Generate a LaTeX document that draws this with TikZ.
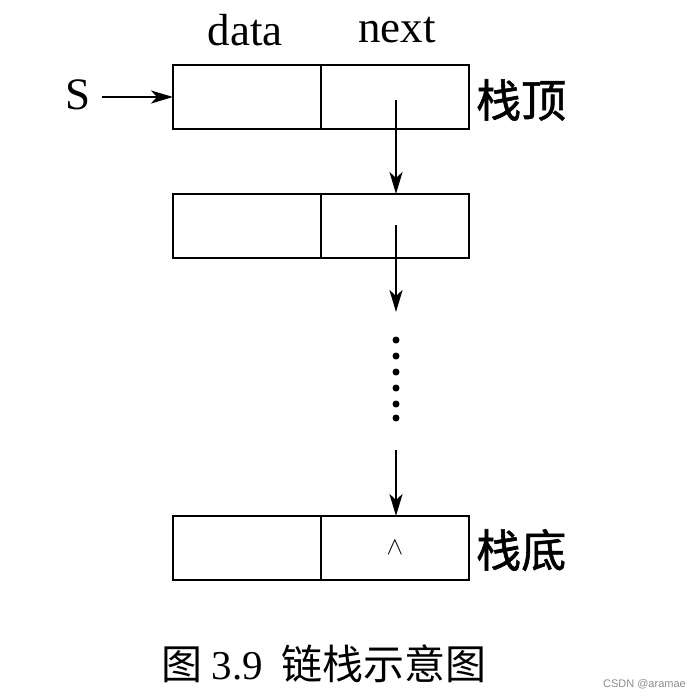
\documentclass[tikz,border=0pt]{standalone}
\usepackage{fontspec}
\setmainfont{Liberation Serif}
\newfontfamily\cjk{Noto Sans CJK SC}
\newfontfamily\cjkfb{Noto Sans CJK SC}[FakeBold=1.3]
\newfontfamily\wmfont{Liberation Sans}
\usetikzlibrary{arrows.meta}
\begin{document}
\begin{tikzpicture}[x=1pt,y=-1pt,
  cell/.style={draw,line width=2.6pt,minimum width=148pt,minimum height=64pt,inner sep=0pt,outer sep=0pt},
  lbl/.style={font=\fontsize{45}{45}\selectfont,inner sep=0pt},
  side/.style={font=\cjkfb\fontsize{45}{45}\selectfont,inner sep=0pt,anchor=west},
  link/.style={line width=2.6pt,-{Stealth[length=22pt,width=13pt,inset=6pt]}},
  dot/.style={circle,fill=black,inner sep=0pt,minimum size=7pt}]
\useasboundingbox (0,0) rectangle (692,699);
% boxes
\node[cell] (d1) at (247,97) {};
\node[cell] (n1) at (395,97) {};
\node[cell] (d2) at (247,226) {};
\node[cell] (n2) at (395,226) {};
\node[cell] (d3) at (247,548) {};
\node[cell] (n3) at (395,548) {\fontsize{30}{30}\selectfont$\wedge$};
% headers
\node[lbl] (hd) at (245,30) {data};
\node[lbl] (hn) at (397,30) {next};
\node[lbl] (S) at (78,95) {S};
\node[side] (top) at (476,100) {栈顶};
\node[side] (bot) at (476,550) {栈底};
% arrows
\coordinate (s0) at (102,97);
\draw[link] (s0) -- (d1.west);
\coordinate (a1) at (396,100);
\draw[link] (a1) -- (n2.north -| a1);
\coordinate (a2) at (396,225);
\coordinate (a2e) at (396,312);
\draw[link] (a2) -- (a2e);
\foreach \i/\y in {1/340,2/356,3/372,4/388,5/404,6/418} \node[dot] (dt\i) at (396,\y) {};
\coordinate (a3) at (396,450);
\draw[link] (a3) -- (n3.north -| a3);
% caption
\node[font=\cjk\fontsize{41}{41}\selectfont,inner sep=0pt] (cap) at (324,664) {图 {\rmfamily 3.9}\hspace{18pt}链栈示意图};
\node[font=\wmfont\fontsize{11}{11}\selectfont,text=black!45,inner sep=0pt,anchor=east] (wm) at (686,684) {CSDN @aramae};
\end{tikzpicture}
\end{document}
